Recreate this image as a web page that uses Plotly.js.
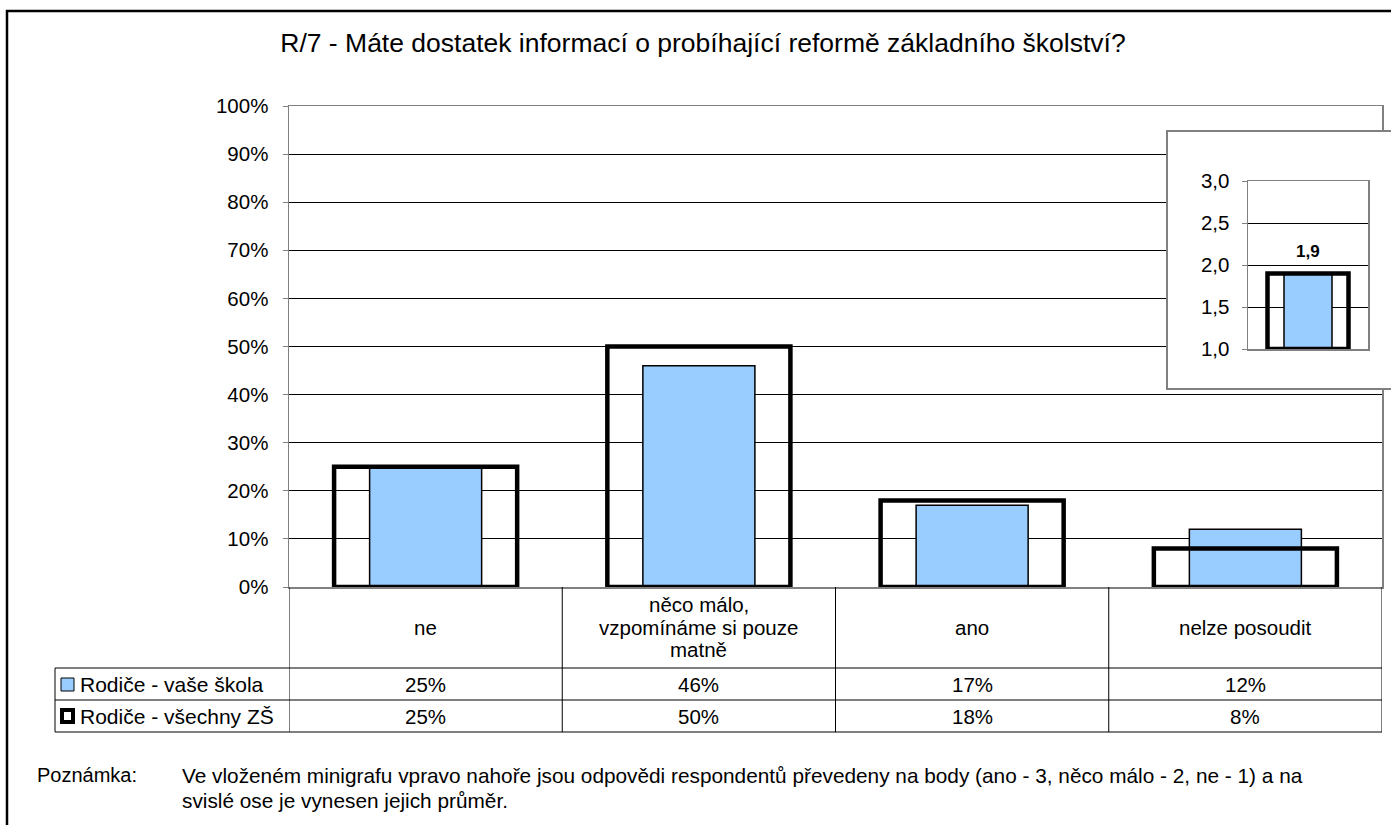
<!DOCTYPE html>
<html>
<head>
<meta charset="utf-8">
<script src="https://cdn.plot.ly/plotly-3.0.1.min.js"></script>
<style>
  html, body { margin: 0; padding: 0; background: #fff; }
  #chart { width: 1391px; height: 825px; }
</style>
</head>
<body>
<div id="chart"></div>
<script>
// Chart data
const categories = ['ne', 'něco málo,<br>vzpomínáme si pouze<br>matně', 'ano', 'nelze posoudit'];
const seriesNames = ['Rodiče - vaše škola', 'Rodiče - všechny ZŠ'];
const vaseSkola = [25, 46, 17, 12];
const vsechnyZS = [25, 50, 18, 8];

// Minigraf (average score, ano = 3, něco málo = 2, ne = 1)
const insetCategory = ['průměr'];
const insetVaseSkola = [1.9];
const insetVsechnyZS = [1.9];
const insetBase = 1;

const titleText = 'R/7 - Máte dostatek informací o probíhající reformě základního školství?';
const noteLabel = 'Poznámka:';
const noteLines = [
    'Ve vloženém minigrafu vpravo nahoře jsou odpovědi respondentů převedeny na body (ano - 3, něco málo - 2, ne - 1) a na',
    'svislé ose je vynesen jejich průměr.'
];

// Pixel -> paper helpers
const W = 1391, H = 825;
const px = x => x / W;
const py = y => 1 - y / H;

const FONT = 'Arial, "Liberation Sans", sans-serif';
const BLUE = '#99CCFF';
const TXT = 20.5;

const traces = [
    {
        type: 'bar',
        name: seriesNames[0],
        x: categories,
        y: vaseSkola,
        width: 0.41,
        marker: { color: BLUE, line: { color: '#000', width: 1.5 } },
        showlegend: false
    },
    {
        type: 'bar',
        name: seriesNames[1],
        x: categories,
        y: vsechnyZS,
        width: 0.67,
        cliponaxis: false,
        marker: { color: 'rgba(0,0,0,0)', line: { color: '#000', width: 4.5 } },
        showlegend: false
    },
    // empty trace for the inset frame subplot
    {
        type: 'scatter',
        x: [],
        y: [],
        xaxis: 'x2',
        yaxis: 'y2',
        hoverinfo: 'skip',
        showlegend: false
    },
    {
        type: 'bar',
        name: seriesNames[0],
        x: insetCategory,
        y: insetVaseSkola.map(v => v - insetBase),
        base: insetBase,
        width: 0.4,
        xaxis: 'x3',
        yaxis: 'y3',
        marker: { color: BLUE, line: { color: '#000', width: 1.5 } },
        showlegend: false
    },
    {
        type: 'bar',
        name: seriesNames[1],
        x: insetCategory,
        y: insetVsechnyZS.map(v => v - insetBase),
        base: insetBase,
        width: 0.675,
        cliponaxis: false,
        xaxis: 'x3',
        yaxis: 'y3',
        marker: { color: 'rgba(0,0,0,0)', line: { color: '#000', width: 4.5 } },
        showlegend: false
    }
];

// Table lines under the chart
const shapes = [];
const lineStyle = { color: '#000', width: 1 };
[668, 700, 732].forEach(y => {
    shapes.push({ type: 'line', xref: 'paper', yref: 'paper', x0: px(55), x1: px(1382), y0: py(y), y1: py(y), line: lineStyle });
});
shapes.push({ type: 'line', xref: 'paper', yref: 'paper', x0: px(55), x1: px(55), y0: py(668), y1: py(732), line: lineStyle });
for (let i = 0; i <= categories.length; i++) {
    shapes.push({ type: 'line', xref: 'x', yref: 'paper', x0: i - 0.5, x1: i - 0.5, y0: py(587), y1: py(732), line: lineStyle });
}

// Legend keys in table
shapes.push({ type: 'rect', xref: 'paper', yref: 'paper', x0: px(61), x1: px(74), y0: py(691), y1: py(678), fillcolor: BLUE, line: { color: '#000', width: 1 } });
shapes.push({ type: 'rect', xref: 'paper', yref: 'paper', x0: px(62), x1: px(73), y0: py(722), y1: py(710), fillcolor: '#fff', line: { color: '#000', width: 4 } });

// Outer frame
shapes.push({ type: 'rect', xref: 'paper', yref: 'paper', x0: px(7), x1: 1.02, y0: -0.02, y1: py(11), line: { color: '#000', width: 2.5 }, layer: 'below' });

const annotations = [];
categories.forEach((c, i) => {
    const lines = c.split('<br>');
    lines.forEach((ln, j) => {
        const yc = 627 + (j - (lines.length - 1) / 2) * 22.5;
        annotations.push({ x: i, xref: 'x', y: py(yc), yref: 'paper', text: ln, showarrow: false, yanchor: 'middle', font: { size: TXT } });
    });
    annotations.push({ x: i, xref: 'x', y: py(684), yref: 'paper', text: vaseSkola[i] + '%', showarrow: false, yanchor: 'middle', font: { size: TXT } });
    annotations.push({ x: i, xref: 'x', y: py(716), yref: 'paper', text: vsechnyZS[i] + '%', showarrow: false, yanchor: 'middle', font: { size: TXT } });
});
annotations.push({ x: px(78), xref: 'paper', y: py(684), yref: 'paper', text: seriesNames[0], showarrow: false, xanchor: 'left', yanchor: 'middle', font: { size: 21 } });
annotations.push({ x: px(78), xref: 'paper', y: py(716), yref: 'paper', text: seriesNames[1], showarrow: false, xanchor: 'left', yanchor: 'middle', font: { size: 21 } });

annotations.push({ x: px(35), xref: 'paper', y: py(775), yref: 'paper', text: noteLabel, showarrow: false, xanchor: 'left', yanchor: 'middle', font: { size: 20 } });
noteLines.forEach((t, i) => {
    annotations.push({ x: px(180), xref: 'paper', y: py(775 + i * 25), yref: 'paper', text: t, showarrow: false, xanchor: 'left', yanchor: 'middle', font: { size: 20.8 } });
});

// value label on the minigraf
annotations.push({
    x: 0, xref: 'x3', y: insetVaseSkola[0], yref: 'y3',
    text: '<b>' + insetVaseSkola[0].toFixed(1).replace('.', ',') + '</b>',
    showarrow: false, yanchor: 'middle', yshift: 22, font: { size: 17 }
});

const layout = {
    width: W,
    height: H,
    margin: { l: 0, r: 0, t: 0, b: 0 },
    paper_bgcolor: '#fff',
    plot_bgcolor: '#fff',
    separators: ', ',
    font: { family: FONT, color: '#000', size: TXT },
    barmode: 'overlay',
    showlegend: false,
    title: {
        text: titleText,
        x: px(703), xanchor: 'center',
        y: py(43), yanchor: 'middle',
        font: { size: 26.5, family: FONT, color: '#000' }
    },
    xaxis: {
        domain: [px(289), px(1382)],
        type: 'category',
        range: [-0.5, categories.length - 0.5],
        showticklabels: false,
        ticks: '',
        showgrid: false,
        zeroline: false,
        showline: true,
        mirror: true,
        linecolor: '#808080',
        linewidth: 1.5,
        fixedrange: true
    },
    yaxis: {
        domain: [py(587), py(106)],
        range: [0, 100],
        dtick: 10,
        ticksuffix: '%',
        ticks: 'outside',
        ticklen: 5,
        tickcolor: '#808080',
        ticklabelstandoff: 10,
        showline: true,
        mirror: true,
        linecolor: '#808080',
        linewidth: 1.5,
        gridcolor: '#000',
        gridwidth: 1,
        zeroline: false,
        tickfont: { size: TXT },
        fixedrange: true
    },
    // frame of the minigraf
    xaxis2: {
        domain: [px(1168), 1],
        anchor: 'y2',
        range: [0, 1],
        showticklabels: false, ticks: '', showgrid: false, zeroline: false,
        showline: true, mirror: true, linecolor: '#808080', linewidth: 2,
        fixedrange: true
    },
    yaxis2: {
        domain: [py(388), py(132)],
        anchor: 'x2',
        range: [0, 1],
        showticklabels: false, ticks: '', showgrid: false, zeroline: false,
        showline: true, linecolor: '#808080', linewidth: 2,
        fixedrange: true
    },
    // minigraf
    xaxis3: {
        domain: [px(1248), px(1368)],
        anchor: 'y3',
        type: 'category',
        range: [-0.5, 0.5],
        showticklabels: false, ticks: '', showgrid: false, zeroline: false,
        showline: true, mirror: true, linecolor: '#808080', linewidth: 1.5,
        fixedrange: true
    },
    yaxis3: {
        domain: [py(349), py(181)],
        anchor: 'x3',
        range: [1, 3],
        dtick: 0.5,
        tickformat: '.1f',
        ticks: 'outside',
        ticklen: 5,
        tickcolor: '#808080',
        ticklabelstandoff: 8,
        showline: true,
        mirror: true,
        linecolor: '#808080',
        linewidth: 1.5,
        gridcolor: '#000',
        zeroline: false,
        tickfont: { size: TXT },
        fixedrange: true
    },
    shapes: shapes,
    annotations: annotations
};

const config = {
    responsive: false,
    displayModeBar: false,
    staticPlot: true
};

Plotly.newPlot('chart', traces, layout, config);
</script>
</body>
</html>
